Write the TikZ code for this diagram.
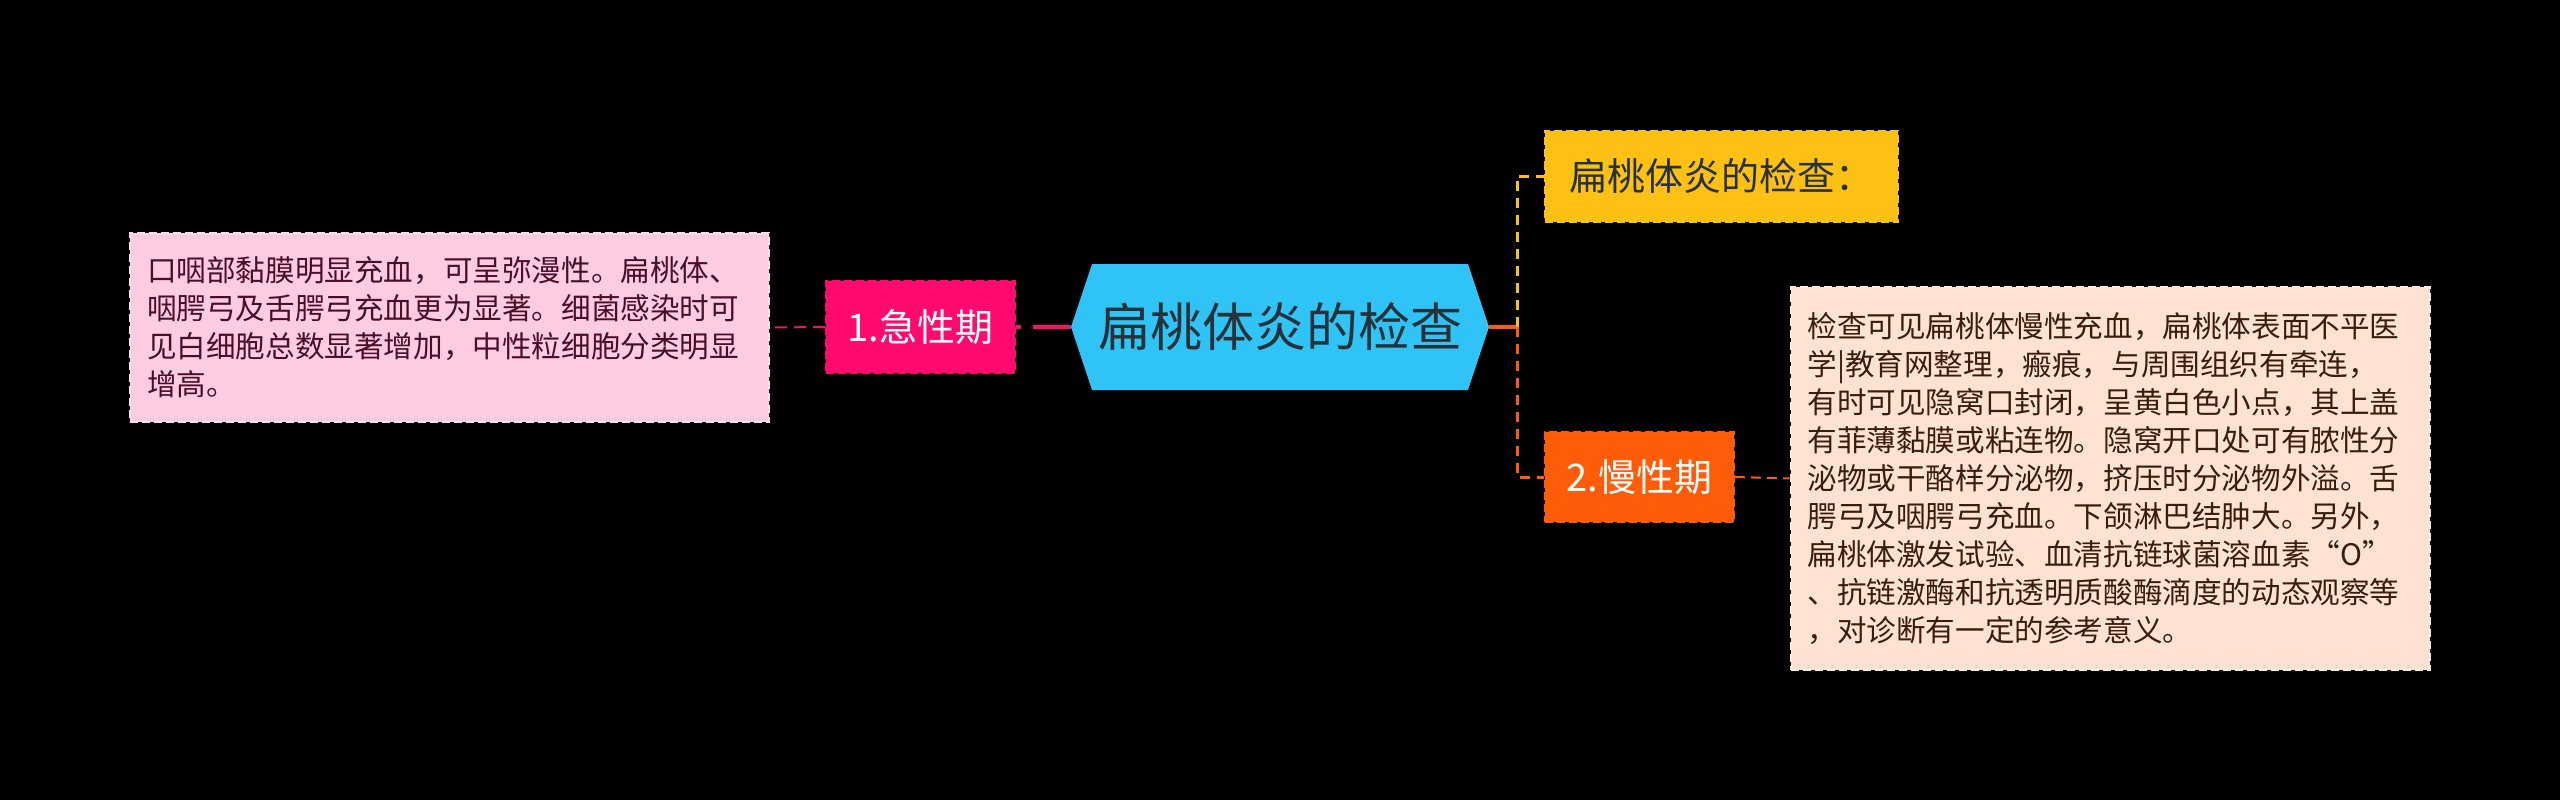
\documentclass[tikz,border=0pt]{standalone}
\usepackage{fontspec}
\newfontfamily\cjk{Noto Sans CJK SC}
\usetikzlibrary{calc}

\definecolor{pinkfill}{HTML}{FFCCE1}
\definecolor{pinkedge}{HTML}{FFDCEA}
\definecolor{pinktext}{HTML}{4A0E2A}
\definecolor{acutefill}{HTML}{FF0A6E}
\definecolor{hexblue}{HTML}{30C3F5}
\definecolor{hextext}{HTML}{263238}
\definecolor{examfill}{HTML}{FDC014}
\definecolor{chronicfill}{HTML}{FF5C0A}
\definecolor{peachfill}{HTML}{FFE2D4}
\definecolor{peachedge}{HTML}{FFEDE4}
\definecolor{peachtext}{HTML}{3D1C10}

\begin{document}
\begin{tikzpicture}[x=1pt, y=-1pt,
    box/.style={rectangle, inner sep=0pt, dash pattern=on 8pt off 4pt, line width=2pt},
    desc/.style={box, align=left, inner xsep=17pt, text width=605pt,
        font=\cjk\fontsize{29.6}{38}\selectfont},
    stage/.style={box, minimum width=189pt, minimum height=92pt, text=white,
        font=\cjk\fontsize{38}{44}\selectfont},
    root/.style={rectangle, minimum width=418pt, minimum height=126pt, inner sep=0pt,
        text=hextext, font=\cjk\fontsize{52}{60}\selectfont,
        path picture={
            \fill[hexblue] (path picture bounding box.west)
                -- ($(path picture bounding box.north west)+(21,0)$)
                -- ($(path picture bounding box.north east)+(-21,0)$)
                -- (path picture bounding box.east)
                -- ($(path picture bounding box.south east)+(-21,0)$)
                -- ($(path picture bounding box.south west)+(21,0)$) -- cycle;
        }},
    link/.style={dash pattern=on 10pt off 7pt, line width=3pt},
]
% Background
\fill[black] (0,0) rectangle (2560,800);
\useasboundingbox (0,0) rectangle (2560,800);

% Root
\node[root] (root) at (1280,327) {扁桃体炎的检查};

% Left branch
\node[stage, fill=acutefill, draw=acutefill] (acute) at (920.5,327) {1.急性期};
\node[desc, fill=pinkfill, draw=pinkedge, text=pinktext, minimum height=189pt] (acute-text) at (449.5,327.5)
    {口咽部黏膜明显充血，可呈弥漫性。扁桃体、\\
     咽腭弓及舌腭弓充血更为显著。细菌感染时可\\
     见白细胞总数显著增加，中性粒细胞分类明显\\
     增高。};

% Right branch
\node[stage, fill=examfill, draw=examfill, text=hextext, minimum width=353pt, minimum height=91pt] (exam) at (1721.5,176) {扁桃体炎的检查：};
\node[stage, fill=chronicfill, draw=chronicfill, minimum height=90pt] (chronic) at (1639.5,477) {2.慢性期};
\node[desc, fill=peachfill, draw=peachedge, text=peachtext, minimum height=383pt] (chronic-text) at (2110,478.5)
    {检查可见扁桃体慢性充血，扁桃体表面不平医\\
     学|教育网整理，瘢痕，与周围组织有牵连，\\
     有时可见隐窝口封闭，呈黄白色小点，其上盖\\
     有菲薄黏膜或粘连物。隐窝开口处可有脓性分\\
     泌物或干酪样分泌物，挤压时分泌物外溢。舌\\
     腭弓及咽腭弓充血。下颌淋巴结肿大。另外，\\
     扁桃体激发试验、血清抗链球菌溶血素“O”\\
     、抗链激酶和抗透明质酸酶滴度的动态观察等\\
     ，对诊断有一定的参考意义。};

% Connectors
\draw[acutefill, dash pattern=on 38pt off 12pt, line width=4pt] (root.west) -- (acute.east);
\draw[acutefill, dash pattern=on 12pt off 7pt, line width=2pt] (acute.west) -- (acute-text.east);

\coordinate (fork) at ($(root.east)+(28,0)$);
\draw[chronicfill, line width=4pt] (root.east) -- (fork);
\draw[examfill, link] (fork) |- (exam.west);
\draw[chronicfill, link] (fork) |- (chronic.west);
\draw[chronicfill, dash pattern=on 10pt off 6pt, line width=2pt] (chronic.east) -- (chronic-text.west);
\end{tikzpicture}
\end{document}
